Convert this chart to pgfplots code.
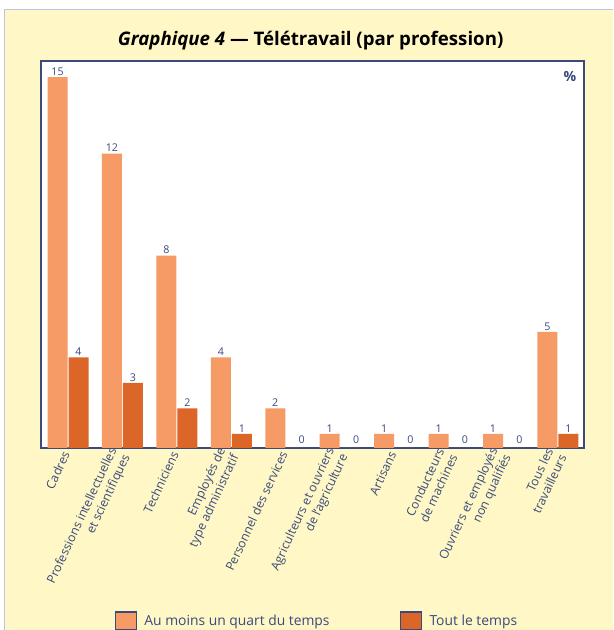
\documentclass[border=0pt]{standalone}
\usepackage{fontspec}
\setmainfont{Open Sans}
\usepackage{pgfplots}
\pgfplotsset{compat=1.18}
\definecolor{lightor}{RGB}{247,155,102}
\definecolor{darkor}{RGB}{220,102,40}
\definecolor{navy}{RGB}{58,74,124}
\definecolor{bgyellow}{RGB}{255,247,197}
\definecolor{panelborder}{RGB}{190,196,222}
\pgfplotsset{boxlegend/.style={legend image code/.code={\draw[##1,draw=navy,line width=0.9pt] (0pt,-6.75pt) rectangle (15.5pt,6.75pt); \path (19.5pt,0pt);}}}
\begin{document}
\begin{tikzpicture}
\path[use as bounding box] (0,0) rectangle (459.75pt,472.5pt);
\fill[white] (0,0) rectangle (459.75pt,472.5pt);
\fill[bgyellow] (3.5pt,0) rectangle (459.75pt,465.5pt);
\draw[panelborder, line width=0.75pt] (3.5pt,0) -- (3.5pt,465.5pt) -- (459.75pt,465.5pt);
\node[font=\fontsize{14}{16}\selectfont\bfseries] at (233pt,442pt) {\textit{Graphique 4} — Télétravail (par profession)};
\begin{axis}[at={(30.75pt,136.5pt)}, anchor=south west, scale only axis,
  width=407.25pt, height=290.25pt,
  xmin=-0.496, xmax=9.478, ymin=0.45, ymax=15.63,
  axis background/.style={fill=white},
  axis line style={navy, line width=1.2pt},
  ytick=\empty, xtick={0,...,9}, xtick style={draw=none}, major tick length=0pt,
  xticklabels={Cadres, {Professions intellectuelles\\et scientifiques}, Techniciens,
    {Employés de\\type administratif}, Personnel des services,
    {Agriculteurs et ouvriers\\de l'agriculture}, Artisans, {Conducteurs\\de machines},
    {Ouvriers et employés\\non qualifiés}, {Tous les\\travailleurs}},
  xticklabel style={rotate=65, anchor=east, align=right, font=\fontsize{9.2}{11}\selectfont, text=navy},
  ybar, bar width=15pt,
  point meta=explicit symbolic, nodes near coords,
  every node near coord/.append style={font=\fontsize{8}{9}\selectfont, text=navy, inner sep=1pt},
  legend columns=2,
  legend style={at={(0.136,-0.447)}, anchor=west, draw=none, fill=none, inner sep=0pt,
    font=\fontsize{10.4}{12}\selectfont,
    /tikz/every even column/.append style={column sep=51pt}},
]
\addplot[fill=lightor, draw=none, bar shift=-7.875pt, boxlegend]
  coordinates {(0,15)[15] (1,12)[12] (2,8)[8] (3,4)[4] (4,2)[2] (5,1)[1] (6,1)[1] (7,1)[1] (8,1)[1] (9,5)[5]};
\addlegendentry{\textcolor{navy}{Au moins un quart du temps}}
\addplot[fill=darkor, draw=none, bar shift=7.875pt, boxlegend]
  coordinates {(0,4)[4] (1,3)[3] (2,2)[2] (3,1)[1] (9,1)[1]};
\addlegendentry{\textcolor{navy}{Tout le temps}}
\addplot[fill=darkor, draw=none, bar shift=7.875pt, forget plot,
  every node near coord/.append style={xshift=4pt, yshift=2pt}]
  coordinates {(4,0.45)[0] (5,0.45)[0] (6,0.45)[0] (7,0.45)[0] (8,0.45)[0]};
\node[text=navy, font=\fontsize{10.5}{12}\selectfont\bfseries] at (rel axis cs:0.974,0.959) {\%};
\end{axis}
\end{tikzpicture}
\end{document}
